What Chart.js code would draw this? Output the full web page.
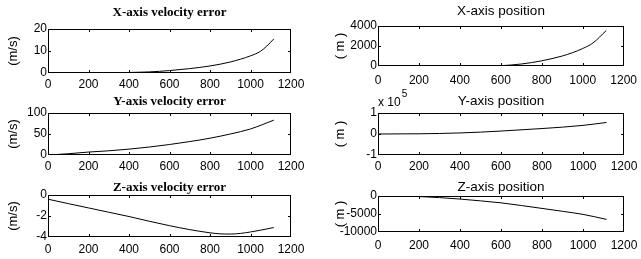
<!DOCTYPE html>
<html>
<head>
<meta charset="utf-8">
<script src="https://cdn.jsdelivr.net/npm/chart.js@4"></script>
<style>
  html, body { margin: 0; padding: 0; background: #fff; }
  #page { position: relative; width: 641px; height: 259px; overflow: hidden; background: #fff; }
  canvas { position: absolute; }
  .frame { position: absolute; box-sizing: border-box; border: 1px solid #000; pointer-events: none; }
  .tick { position: absolute; background: #000; pointer-events: none; }
  .title-l { position: absolute; font: bold 13px "Liberation Serif", "Times New Roman", serif; color: #000; text-align: center; white-space: nowrap; }
  .title-r { position: absolute; font: 13.5px "Liberation Sans", Arial, sans-serif; color: #000; text-align: center; white-space: nowrap; }
  .ylab { position: absolute; font: 13px "Liberation Sans", Arial, sans-serif; color: #000; white-space: pre; transform: translate(-50%, -50%) rotate(-90deg); }
  .expo { position: absolute; font: 12px "Liberation Sans", Arial, sans-serif; color: #000; white-space: nowrap; }
</style>
</head>
<body>
<div id="page"></div>
<script>
// time axis ticks (shared)
const timeTicks = [0, 200, 400, 600, 800, 1000, 1200];

// X-axis velocity error (m/s)
const xVelT = [0, 100, 200, 300, 400, 500, 600, 700, 800, 900, 1000, 1050, 1080, 1115];
const xVelV = [0, 0.02, 0.05, 0.1, 0.25, 0.5, 1.1, 2.0, 3.2, 5.0, 7.8, 9.9, 12.2, 15.5];

// Y-axis velocity error (m/s)
const yVelT = [0, 100, 200, 300, 400, 500, 600, 700, 800, 900, 1000, 1115];
const yVelV = [0, 3, 7, 10, 14, 19, 25, 32, 40, 50, 62, 83];

// Z-axis velocity error (m/s)
const zVelT = [0, 100, 200, 300, 400, 500, 600, 700, 800, 850, 900, 950, 1000, 1050, 1115];
const zVelV = [-0.4, -0.82, -1.23, -1.64, -2.05, -2.5, -2.92, -3.3, -3.6, -3.7, -3.72, -3.66, -3.52, -3.35, -3.1];

// X-axis position (m)
const xPosT = [0, 500, 580, 600, 650, 700, 750, 800, 850, 900, 950, 1000, 1050, 1115];
const xPosV = [0, 0, 0, 30, 100, 200, 340, 520, 740, 1000, 1330, 1750, 2300, 3550];

// Y-axis position (m)
const yPosT = [0, 200, 400, 600, 800, 1000, 1115];
const yPosV = [0, 1000, 5000, 14000, 26000, 41000, 55000];

// Z-axis position (m)
const zPosT = [0, 150, 200, 300, 400, 500, 600, 700, 800, 900, 1000, 1115];
const zPosV = [0, 0, -150, -450, -850, -1350, -1900, -2650, -3450, -4250, -5100, -6500];

const page = document.getElementById('page');
const tickFont = { family: '"Liberation Sans", Arial, sans-serif', size: 12 };

function addEl(cls, x, y, w, h) {
    const d = document.createElement('div');
    d.className = cls;
    d.style.left = x + 'px';
    d.style.top = y + 'px';
    if (w != null) d.style.width = w + 'px';
    if (h != null) d.style.height = h + 'px';
    page.appendChild(d);
    return d;
}

function addText(cls, text, x, y) {
    const d = addEl(cls, x, y);
    d.textContent = text;
    return d;
}

// matlab style box: frame plus short inward ticks on all four sides,
// placed from the chart's own area and scales
function drawBox(chart, offX, offY) {
    const a = chart.chartArea;
    const xs = chart.scales.x, ys = chart.scales.y;
    const L = offX + Math.round(a.left), R = offX + Math.round(a.right);
    const T = offY + Math.round(a.top), B = offY + Math.round(a.bottom);
    addEl('frame', L, T, R - L, B - T);
    xs.ticks.forEach(tk => {
        const px = offX + Math.round(xs.getPixelForValue(tk.value));
        if (px <= L || px >= R - 1) return;
        addEl('tick', px, T, 1, 3);
        addEl('tick', px, B - 3, 1, 3);
    });
    ys.ticks.forEach(tk => {
        const py = offY + Math.round(ys.getPixelForValue(tk.value));
        if (py <= T || py >= B - 1) return;
        addEl('tick', L, py, 3, 1);
        addEl('tick', R - 3, py, 3, 1);
    });
}

function makePanel(p) {
    const yAxisW = 50, xAxisH = 22, padTop = 12, padRight = 20;
    const w = p.right - p.left, h = p.bottom - p.top;
    const offX = p.left - yAxisW, offY = p.top - padTop;
    const cv = document.createElement('canvas');
    cv.width = yAxisW + w + padRight;
    cv.height = padTop + h + xAxisH;
    cv.style.left = offX + 'px';
    cv.style.top = offY + 'px';
    page.appendChild(cv);

    const pts = p.t.map((tv, i) => ({ x: tv, y: p.v[i] }));
    const chart = new Chart(cv.getContext('2d'), {
        type: 'line',
        data: {
            datasets: [{
                data: pts,
                borderColor: '#000',
                borderWidth: 1,
                pointRadius: 0,
                cubicInterpolationMode: 'monotone',
                fill: false
            }]
        },
        options: {
            responsive: false,
            animation: false,
            devicePixelRatio: 1,
            layout: { padding: { left: 0, top: padTop, right: padRight, bottom: 0 } },
            plugins: { legend: { display: false }, tooltip: { enabled: false } },
            scales: {
                x: {
                    type: 'linear',
                    min: 0, max: 1200,
                    afterBuildTicks: s => { s.ticks = timeTicks.map(v => ({ value: v })); },
                    afterFit: s => { s.height = xAxisH; },
                    grid: { display: false, drawTicks: false },
                    border: { display: false },
                    ticks: { color: '#000', font: tickFont, padding: p.xPad, autoSkip: false, maxRotation: 0,
                             callback: v => String(v) }
                },
                y: {
                    min: p.min, max: p.max,
                    afterBuildTicks: s => { s.ticks = p.yTicks.map(v => ({ value: v })); },
                    afterFit: s => { s.width = yAxisW; },
                    grid: { display: false, drawTicks: false },
                    border: { display: false },
                    ticks: { color: '#000', font: tickFont, padding: 1,
                             callback: p.fmt || (v => String(v)) }
                }
            }
        }
    });
    drawBox(chart, offX, offY);

    const cx = (p.left + p.right) / 2;
    addText(p.titleCls, p.title, cx - 100, p.titleY).style.width = '200px';
    addText('ylab', p.ylab, p.ylabX, (p.top + p.bottom) / 2);
}

const LX = [48, 291], RX = [378, 624];

makePanel({ left: LX[0], right: LX[1], top: 29, bottom: 73, xPad: 4, t: xVelT, v: xVelV,
    min: 0, max: 20, yTicks: [0, 10, 20], title: 'X-axis velocity error', titleCls: 'title-l', titleY: 4,
    ylab: '(m/s)', ylabX: 12 });
makePanel({ left: LX[0], right: LX[1], top: 113, bottom: 155, xPad: 4, t: yVelT, v: yVelV,
    min: 0, max: 100, yTicks: [0, 50, 100], title: 'Y-axis velocity error', titleCls: 'title-l', titleY: 93,
    ylab: '(m/s)', ylabX: 12 });
makePanel({ left: LX[0], right: LX[1], top: 195, bottom: 237, xPad: 5, t: zVelT, v: zVelV,
    min: -4, max: 0, yTicks: [-4, -2, 0], title: 'Z-axis velocity error', titleCls: 'title-l', titleY: 179,
    ylab: '(m/s)', ylabX: 12 });

makePanel({ left: RX[0], right: RX[1], top: 26, bottom: 66, xPad: 7, t: xPosT, v: xPosV,
    min: 0, max: 4000, yTicks: [0, 2000, 4000], title: 'X-axis position', titleCls: 'title-r', titleY: 3,
    ylab: '( m )', ylabX: 339 });
makePanel({ left: RX[0], right: RX[1], top: 113, bottom: 155, xPad: 4, t: yPosT, v: yPosV,
    min: -100000, max: 100000, yTicks: [-100000, 0, 100000], title: 'Y-axis position', titleCls: 'title-r', titleY: 93,
    ylab: '( m )', ylabX: 339, fmt: v => String(v / 100000) });
makePanel({ left: RX[0], right: RX[1], top: 196, bottom: 232, xPad: 6, t: zPosT, v: zPosV,
    min: -10000, max: 0, yTicks: [-10000, -5000, 0], title: 'Z-axis position', titleCls: 'title-r', titleY: 179,
    ylab: '( m )', ylabX: 339 });

// exponent marker of the Y-axis position plot
const ex = addText('expo', 'x 10', 378, 95);
const sup = document.createElement('span');
sup.textContent = '5';
sup.style.cssText = 'font-size:10px;position:relative;top:-9px;left:1px';
ex.appendChild(sup);
</script>
</body>
</html>
